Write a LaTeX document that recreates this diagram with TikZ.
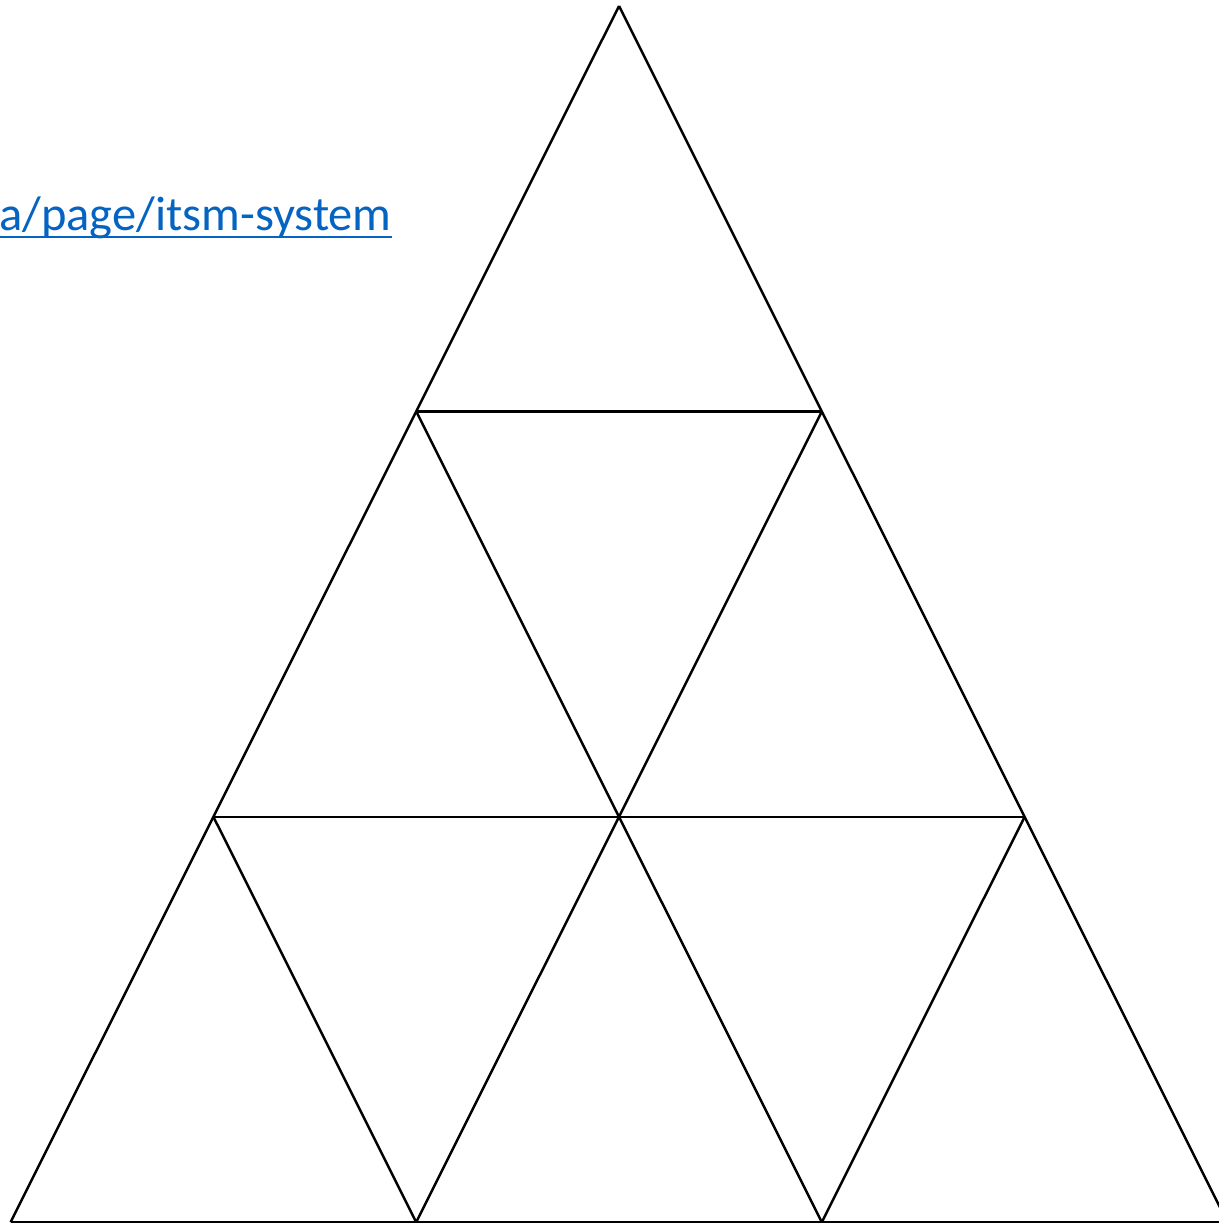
\documentclass[tikz,border=0pt]{standalone}
\usepackage{fontspec}
\usepackage{xcolor,tikz}
\newfontfamily\linkfont{Carlito}
\definecolor{hyperblue}{HTML}{0563C1}

\begin{document}
\begin{tikzpicture}[x=0.02cm,y=-0.02cm,
  edge/.style={black,line width=1.4pt,line join=miter},
  urltext/.style={text=hyperblue,font=\linkfont\fontsize{27.6}{33}\selectfont,inner sep=0pt}]
  % page
  \clip (0,0) rectangle (1219,1230);
  \fill[white] (0,0) rectangle (1219,1230);
  % grid points, row r has r+1 points
  \foreach \r in {0,...,3}
    \foreach \k in {0,...,\r}
      \coordinate (v-\r-\k) at ({619+(2*\k-\r)*202.8},{6+\r*405.4});
  % rows
  \foreach \r in {1,2,3}
    \draw[edge] (v-\r-0) -- (v-\r-\r);
  % slanted lines
  \foreach \j in {0,1,2} {
    \pgfmathtruncatemacro{\m}{3-\j}
    \draw[edge] (v-\j-\j) -- (v-3-\j);
    \draw[edge] (v-\j-0) -- (v-3-\m);
  }
  % link text with its underline
  \node[urltext,anchor=base east] (link) at (392,230) {a/page/itsm-system};
  \draw[hyperblue,line width=1.6pt] ([yshift=-0.14cm]link.base west) -- ([yshift=-0.14cm]link.base east);
\end{tikzpicture}
\end{document}
